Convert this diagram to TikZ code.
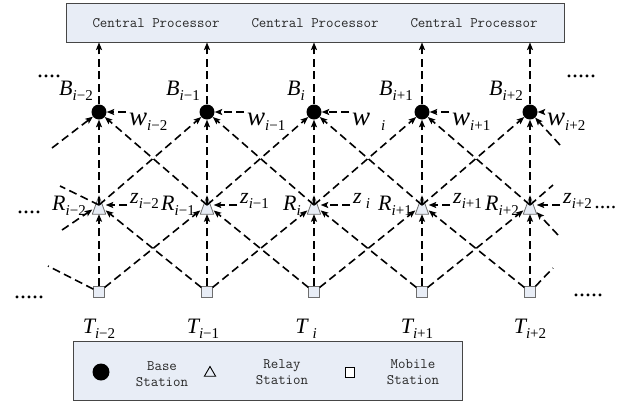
\documentclass[tikz,border=0pt]{standalone}
\usepackage{fontspec}
\newfontfamily\tms{Liberation Serif}
\usetikzlibrary{arrows.meta,shapes.geometric}
\definecolor{boxfill}{RGB}{232,237,246}
\definecolor{boxline}{RGB}{70,70,70}
\definecolor{symline}{RGB}{110,110,110}
\definecolor{txtgray}{RGB}{40,40,40}
% #1 size of letter, #2 letter, #3 gap, #4 subscript
\newcommand{\mlab}[4]{{\tms\fontsize{#1}{#1}\selectfont\itshape #2}\hspace{#3}\raisebox{-5pt}{\tms\fontsize{15}{15}\selectfont #4}}
\tikzset{
  link/.style={line width=1.6pt, dash pattern=on 8pt off 4.5pt,
    -{Stealth[length=7.5pt,width=6pt,inset=1.5pt]}},
  plainlink/.style={line width=1.6pt, dash pattern=on 8pt off 4.5pt},
  bsnode/.style={circle, fill=black, minimum size=15pt, inner sep=0pt},
  rsnode/.style={rectangle, minimum width=13pt, minimum height=18pt, inner sep=0pt},
  msnode/.style={rectangle, draw=symline, fill=boxfill, line width=0.8pt,
    minimum size=10.5pt, inner sep=0pt},
  trishape/.style={draw=symline, fill=boxfill, line width=0.8pt, line join=round},
  lab/.style={inner sep=0pt},
  ttext/.style={inner sep=0pt, font=\fontsize{14.5}{15.5}\selectfont\ttfamily,
    align=center, text=txtgray},
  dotlab/.style={inner sep=0pt, font=\tms\fontsize{24}{26}\selectfont},
  panel/.style={draw=boxline, fill=boxfill, line width=0.9pt, inner sep=0pt},
  legtri/.style={draw=black, line width=0.9pt, regular polygon, regular polygon sides=3,
    minimum size=13pt, inner sep=0pt},
  legsq/.style={draw=black, line width=0.9pt, fill=white, minimum width=9pt,
    minimum height=10pt, inner sep=0pt},
}
\begin{document}
\begin{tikzpicture}[x=1pt,y=-1pt]
\useasboundingbox (0,0) rectangle (641,408);

% central processor
\node[panel, minimum width=498pt, minimum height=39pt] (cp) at (315,22.5) {};
\node[ttext] (cp1) at (156,23) {Central Processor};
\node[ttext] (cp2) at (315,23) {Central Processor};
\node[ttext] (cp3) at (474,23) {Central Processor};

% stations
\foreach \k/\x in {1/99,2/207,3/314,4/422,5/530} {
  \node[bsnode] (B\k) at (\x,112) {};
  \node[rsnode] (R\k) at (\x,205) {};
  \node[msnode] (T\k) at (\x,292) {};
  \draw[trishape] (R\k.south west) -- (R\k.south east) -- (R\k.north) -- cycle;
}

% mesh
\foreach \k in {1,...,5} {
  \draw[link] (B\k) -- (B\k |- cp.south);
  \draw[link] (R\k.center) -- (B\k);
  \draw[link] (T\k) -- (R\k);
}
\foreach \k/\n in {1/2,2/3,3/4,4/5} {
  \draw[link] (R\k.center) -- (B\n);
  \draw[link] (R\n.center) -- (B\k);
  \draw[link] (T\k) -- (R\n);
  \draw[link] (T\n) -- (R\k);
}

% partial edges
\coordinate (pBL) at (52,148);
\coordinate (pRUL) at (60,186);
\coordinate (pRLL) at (62,230);
\coordinate (pTUL) at (48,266);
\coordinate (pBR) at (560,145);
\coordinate (pRUR) at (553,185);
\coordinate (pRLR) at (558,235);
\coordinate (pTUR) at (553,268);
\draw[link] (pBL) -- (B1);
\draw[plainlink] (R1.center) -- (pRUL);
\draw[link] (pRLL) -- (R1);
\draw[plainlink] (T1) -- (pTUL);
\draw[link] (pBR) -- (B5);
\draw[plainlink] (R5.center) -- (pRUR);
\draw[link] (pRLR) -- (R5);
\draw[plainlink] (T5) -- (pTUR);

% B labels
\node[lab, anchor=base east] (lB1) at (93,95) {\mlab{22}{B}{0pt}{\textit{i}−2}};
\node[lab, anchor=base east] (lB2) at (200,95) {\mlab{22}{B}{0pt}{\textit{i}−1}};
\node[lab, anchor=base east] (lB3) at (305,95) {\mlab{22}{B}{0pt}{\textit{i}}};
\node[lab, anchor=base east] (lB4) at (413,95) {\mlab{22}{B}{0pt}{\textit{i}+1}};
\node[lab, anchor=base east] (lB5) at (523,95) {\mlab{22}{B}{0pt}{\textit{i}+2}};

% w labels
\node[lab, anchor=base west] (w1) at (129,125) {\mlab{27}{w}{0pt}{\textit{i}−2}};
\node[lab, anchor=base west] (w2) at (247,125) {\mlab{27}{w}{0pt}{\textit{i}−1}};
\node[lab, anchor=base west] (w3) at (352,125) {\mlab{27}{w}{11pt}{\textit{i}}};
\node[lab, anchor=base west] (w4) at (452,125) {\mlab{27}{w}{0pt}{\textit{i}+1}};
\node[lab, anchor=base west] (w5) at (547,125) {\mlab{27}{w}{0pt}{\textit{i}+2}};
\foreach \k in {1,...,5} {
  \coordinate (w\k t) at ([xshift=-3pt]w\k.west);
  \draw[link] (w\k t |- B\k) -- (B\k);
}

% R labels
\node[lab, anchor=base east] (lR1) at (86,210) {\mlab{22}{R}{0pt}{\textit{i}−2}};
\node[lab, anchor=base east] (lR2) at (195,210) {\mlab{22}{R}{0pt}{\textit{i}−1}};
\node[lab, anchor=base east] (lR3) at (301,210) {\mlab{22}{R}{0pt}{\textit{i}}};
\node[lab, anchor=base east] (lR4) at (412,210) {\mlab{22}{R}{0pt}{\textit{i}+1}};
\node[lab, anchor=base east] (lR5) at (519,210) {\mlab{22}{R}{0pt}{\textit{i}+2}};

% z labels
\node[lab, anchor=base west] (z1) at (130,203) {\mlab{22}{z}{0pt}{\textit{i}−2}};
\node[lab, anchor=base west] (z2) at (240,203) {\mlab{22}{z}{0pt}{\textit{i}−1}};
\node[lab, anchor=base west] (z3) at (353,203) {\mlab{22}{z}{4pt}{\textit{i}}};
\node[lab, anchor=base west] (z4) at (453,203) {\mlab{22}{z}{0pt}{\textit{i}+1}};
\node[lab, anchor=base west] (z5) at (563,203) {\mlab{22}{z}{0pt}{\textit{i}+2\,{\fontsize{22}{22}\selectfont....}}};
\foreach \k in {1,...,5} {
  \coordinate (z\k t) at ([xshift=-3pt]z\k.west);
  \draw[link] (z\k t |- R\k) -- (R\k);
}

% T labels
\node[lab, anchor=base] (lT1) at (99,333) {\mlab{22}{T}{0pt}{\textit{i}−2}};
\node[lab, anchor=base] (lT2) at (203,333) {\mlab{22}{T}{0pt}{\textit{i}−1}};
\node[lab, anchor=base] (lT3) at (306,333) {\mlab{22}{T}{5pt}{\textit{i}}};
\node[lab, anchor=base] (lT4) at (417,333) {\mlab{22}{T}{0pt}{\textit{i}+1}};
\node[lab, anchor=base] (lT5) at (530,333) {\mlab{22}{T}{0pt}{\textit{i}+2}};

% dots
\node[dotlab, anchor=base west] (d1) at (37,77) {....};
\node[dotlab, anchor=base west] (d2) at (566,77) {.....};
\node[dotlab, anchor=base west] (d3) at (17,213) {....};
\node[dotlab, anchor=base west] (d5) at (14,298) {.....};
\node[dotlab, anchor=base west] (d6) at (573,296) {.....};

% legend
\node[panel, minimum width=389pt, minimum height=59pt] (leg) at (267.5,371) {};
\node[circle, fill=black, minimum size=17pt, inner sep=0pt] (lgB) at (101,372) {};
\node[ttext] (lgBt) at (162,374) {Base\\Station};
\node[legtri] (lgR) at (210,373) {};
\node[ttext] (lgRt) at (282,372) {Relay\\Station};
\node[legsq] (lgT) at (350,372) {};
\node[ttext] (lgTt) at (413,372) {Mobile\\Station};
\end{tikzpicture}
\end{document}
